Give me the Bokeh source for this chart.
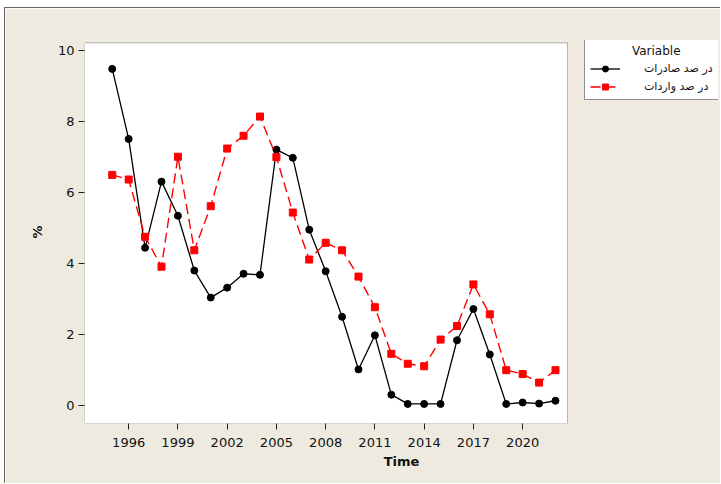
from bokeh.plotting import figure
from bokeh.models import (ColumnDataSource, FixedTicker, Range1d, Legend,
                          LegendItem, BoxAnnotation)
from bokeh.embed import file_html
from bokeh.resources import INLINE

years = list(range(1995, 2023))
exports_pct = [9.47, 7.50, 4.44, 6.30, 5.34, 3.80, 3.04, 3.32, 3.71, 3.68,
               7.20, 6.97, 4.95, 3.78, 2.50, 1.02, 1.98, 0.31, 0.05, 0.05,
               0.05, 1.84, 2.72, 1.44, 0.05, 0.09, 0.06, 0.14]
imports_pct = [6.49, 6.36, 4.75, 3.91, 7.00, 4.37, 5.61, 7.23, 7.59, 8.13,
               6.99, 5.43, 4.11, 4.58, 4.37, 3.63, 2.77, 1.46, 1.18, 1.11,
               1.86, 2.24, 3.41, 2.57, 1.00, 0.89, 0.65, 1.00]
x_ticks = [1996, 1999, 2002, 2005, 2008, 2011, 2014, 2017, 2020]
y_ticks = [0, 2, 4, 6, 8, 10]
series_names = ["در صد صادرات", "در صد واردات"]

# data-area limits (the white panel) and the wider frame that also holds the legend
X_MIN, X_MAX = 1993.31, 2022.73
Y_MIN, Y_MAX = -0.5, 10.2
X_FRAME_MAX = 2031.93
Y_FRAME_MAX = 10.268

BG = "#EEEAE0"
FONT = "DejaVu Sans"

src = ColumnDataSource(dict(year=years, exp=exports_pct, imp=imports_pct))

p = figure(width=716, height=476, output_backend="svg", toolbar_location=None,
           x_range=Range1d(X_MIN, X_FRAME_MAX), y_range=Range1d(Y_MIN, Y_FRAME_MAX),
           min_border_left=79, min_border_right=3, min_border_top=32,
           min_border_bottom=61,
           styles={"margin-left": "4px", "margin-top": "7px",
                   "border-left": "1px solid #666666",
                   "border-top": "1px solid #666666"})
p.background_fill_color = BG
p.border_fill_color = BG
p.outline_line_color = None
p.grid.visible = False

panel = BoxAnnotation(left=X_MIN, right=X_MAX, bottom=Y_MIN, top=Y_MAX,
                      fill_color="white", fill_alpha=1,
                      line_color="#222222", line_width=1, level="underlay")
p.add_layout(panel)

for ax in (p.xaxis, p.yaxis):
    ax.axis_line_color = None
    ax.major_tick_line_color = "#222222"
    ax.major_tick_out = 6
    ax.major_tick_in = 0
    ax.minor_tick_line_color = None
    ax.major_label_text_font = FONT
    ax.major_label_text_font_size = "13px"
    ax.major_label_text_color = "#111111"
    ax.axis_label_text_font = FONT
    ax.axis_label_text_font_size = "13px"
    ax.axis_label_text_font_style = "bold"
    ax.axis_label_text_color = "#111111"

p.xaxis.ticker = FixedTicker(ticks=x_ticks)
p.yaxis.ticker = FixedTicker(ticks=y_ticks)
p.xaxis.axis_label = "Time"
p.yaxis.axis_label = "%"
p.xaxis.major_label_standoff = 8
p.xaxis.axis_label_standoff = 4
p.yaxis.major_label_standoff = 4
p.yaxis.axis_label_standoff = 10

l1 = p.line("year", "exp", source=src, line_color="black", line_width=1.3)
m1 = p.scatter("year", "exp", source=src, marker="circle", size=7,
               fill_color="black", line_color="black")
l2 = p.line("year", "imp", source=src, line_color="#FF0000", line_width=1.4,
            line_dash="10 5")
m2 = p.scatter("year", "imp", source=src, marker="square", size=7,
               fill_color="#FF0000", line_color="#FF0000")

legend = Legend(items=[LegendItem(label=series_names[0], renderers=[l1, m1]),
                       LegendItem(label=series_names[1], renderers=[l2, m2])],
                location=(500, 323))
legend.title = "\u00a0" * 11 + "Variable"
legend.title_text_font = FONT
legend.title_text_font_size = "12px"
legend.title_text_font_style = "normal"
legend.title_text_color = "#111111"
legend.title_standoff = 3
legend.label_text_font = FONT
legend.label_text_font_size = "11px"
legend.label_text_color = "#111111"
legend.label_height = 15
legend.glyph_height = 15
legend.glyph_width = 30
legend.label_standoff = 24
legend.spacing = 3
legend.padding = 5
legend.margin = 0
legend.border_line_color = "#222222"
legend.border_line_width = 1
legend.background_fill_color = "white"
legend.background_fill_alpha = 1
p.add_layout(legend, "center")

open("out.html", "w").write(file_html(p, INLINE))
